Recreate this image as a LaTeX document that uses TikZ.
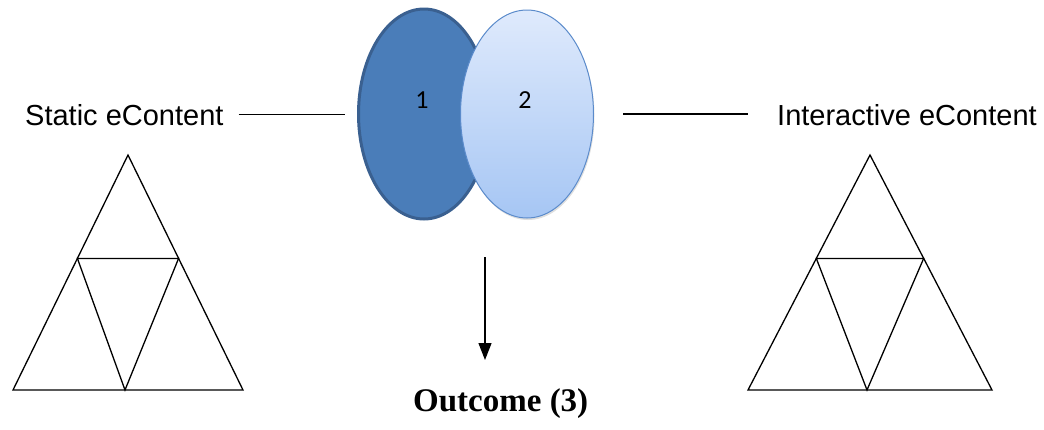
\documentclass[tikz,border=0pt]{standalone}
\usepackage{fontspec}
\setmainfont{Liberation Sans}
\newfontfamily\serifbold{Liberation Serif}
\newfontfamily\digitfont{Carlito}
\usetikzlibrary{shapes.geometric,arrows.meta,shadows,calc}
\definecolor{darkfill}{HTML}{4A7DB9}
\definecolor{darkrim}{HTML}{3A6090}
\definecolor{lighttop}{HTML}{DFEAFC}
\definecolor{lightbot}{HTML}{A6C6F4}
\definecolor{lightrim}{HTML}{5B8BCB}
\begin{document}
\begin{tikzpicture}[x=1pt,y=-1pt,
  sidelabel/.style={inner sep=0pt,font=\fontsize{29}{33}\selectfont},
  connector/.style={line width=1.3pt},
  tri/.style={line width=1.3pt,line join=miter},
  num/.style={inner sep=0pt,font=\digitfont\fontsize{26}{30}\selectfont}]
\useasboundingbox (0,0) rectangle (1044,429);

% overlapping ellipses
\node[ellipse,draw=darkrim,line width=3pt,fill=darkfill,
      minimum width=131pt,minimum height=210pt,inner sep=0pt] (e1) at (424,114) {};
\node[ellipse,draw=lightrim,line width=1pt,top color=lighttop,bottom color=lightbot,
      drop shadow={shadow xshift=1pt,shadow yshift=-2pt,opacity=0.25},
      minimum width=133pt,minimum height=208pt,inner sep=0pt] (e2) at (527,114) {};
\node[num] (n1) at (422,100) {1};
\node[num] (n2) at (525,100) {2};

% side labels
\node[sidelabel,anchor=base west] (static) at (25,125) {Static eContent};
\node[sidelabel,anchor=base west] (inter) at (777,125) {Interactive eContent};
\draw[connector,shorten <=15pt,shorten >=12pt] (static.east) -- (static.east -| e1.west);
\draw[connector,shorten <=29pt,shorten >=29pt] (e2.east) -- (e2.east -| inter.west);

% outcome
\node[inner sep=0pt,anchor=base west,font=\serifbold\bfseries\fontsize{33}{38}\selectfont]
  (outcome) at (413,411) {Outcome (3)};
\coordinate (arrtop) at (485,257);
\coordinate (arrtip) at (485,360);
\draw[connector,-{Triangle[width=13pt,length=17pt]}] (arrtop) -- (arrtip);

% triangle figures
\foreach \ax/\lx/\rx/\mx/\name in {128/13/243/125/L, 870/748/992/867/R}{
  \coordinate (\name apex) at (\ax,155);
  \coordinate (\name bl) at (\lx,390);
  \coordinate (\name br) at (\rx,390);
  \coordinate (\name bm) at (\mx,390);
  \coordinate (\name ml) at ($(\name apex)!0.44!(\name bl)$);
  \coordinate (\name mr) at ($(\name apex)!0.44!(\name br)$);
  \draw[tri] (\name apex) -- (\name bl) -- (\name br) -- cycle;
  \draw[tri] (\name ml) -- (\name mr) -- (\name bm) -- cycle;
}
\end{tikzpicture}
\end{document}
